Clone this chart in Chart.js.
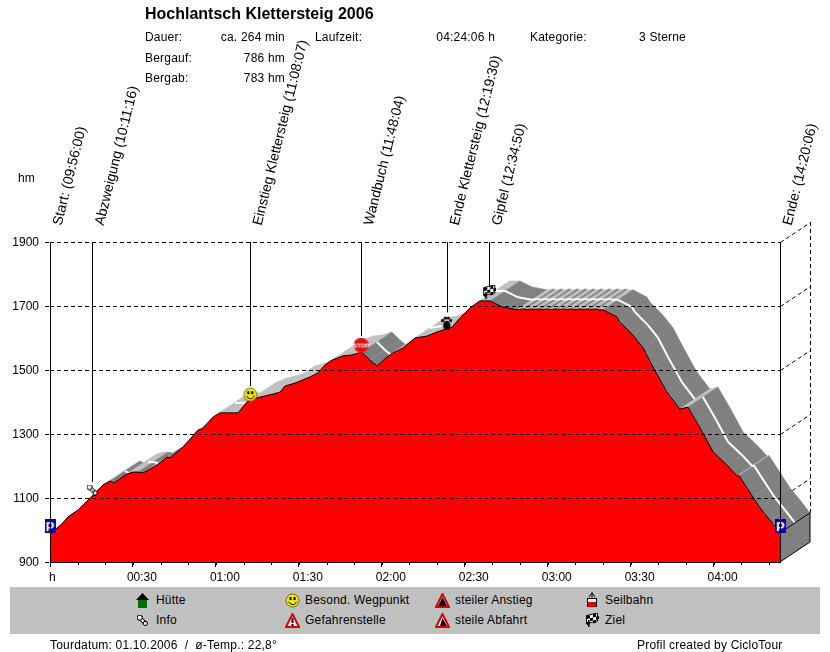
<!DOCTYPE html>
<html>
<head>
<meta charset="utf-8">
<title>Hochlantsch Klettersteig 2006</title>
<script src="https://cdn.jsdelivr.net/npm/chart.js@4"></script>
<style>
  html, body { margin: 0; padding: 0; background: #fff; }
  #page { position: relative; width: 830px; height: 652px; overflow: hidden; font: 12px "Liberation Sans", Arial, sans-serif; color: #000; }
  #chart { position: absolute; left: 0; top: 0; }
  .t { position: absolute; white-space: pre; line-height: 14px; letter-spacing: 0.2px; }
  .r { text-align: right; }
  #title { left: 145px; top: 5px; font-size: 16px; font-weight: bold; line-height: 18px; letter-spacing: 0; }
  #bar { position: absolute; left: 10px; top: 587px; width: 810px; height: 47px; background: #c0c0c0; }
  canvas.ic { position: absolute; }
</style>
</head>
<body>
<div id="page">
  <canvas id="chart" width="830" height="652"></canvas>
  <div id="bar"></div>
  <div class="t" id="title">Hochlantsch Klettersteig 2006</div>
</div>
<script>
// Profil: Minuten seit Start und Hoehe
const tourMinutes = [0, 2.5, 4.3, 6.5, 10.1, 15.6, 19.2, 21.7, 23.1, 27.8, 30, 31.8, 33.6, 38.7, 42.3, 43.4, 48.1, 53.5, 55, 59, 61.5, 65.1, 68, 71.2, 74.9, 80.7, 83.2, 85, 88.6, 94, 96.9, 99.5, 102, 106, 109.2, 112.8, 115.7, 118.3, 121.9, 124, 127.7, 132, 136.3, 140, 145.4, 148.3, 151.9, 155.5, 159.1, 163.5, 165.3, 168.9, 171.2, 171.9, 174.1, 174.8, 177, 177.7, 179.9, 180.6, 182.8, 183.5, 185.7, 186.4, 188.6, 189.3, 191.5, 192.2, 194.4, 195.1, 197.3, 198, 200, 205, 206.1, 210.8, 214.5, 218.1, 223.1, 227.8, 230.7, 235.1, 239.8, 244.8, 248.5, 249.2, 254.2, 256.8, 260.4, 264];
const tourElevation = [985, 1006, 1019, 1041, 1062, 1109, 1141, 1153, 1147, 1175, 1181, 1181, 1178, 1203, 1228, 1225, 1259, 1312, 1316, 1353, 1366, 1366, 1366, 1400, 1413, 1425, 1431, 1450, 1459, 1478, 1491, 1516, 1531, 1544, 1547, 1556, 1531, 1513, 1541, 1553, 1569, 1600, 1606, 1619, 1634, 1663, 1694, 1716, 1716, 1697, 1694, 1688, 1691, 1688, 1691, 1688, 1691, 1688, 1691, 1688, 1691, 1688, 1691, 1688, 1691, 1688, 1691, 1688, 1691, 1688, 1691, 1688, 1688, 1666, 1650, 1609, 1569, 1509, 1431, 1378, 1384, 1319, 1244, 1203, 1169, 1170, 1103, 1069, 1031, 991];

// Wegpunkte
const markerNames = ['Start: (09:56:00)', 'Abzweigung (10:11:16)', 'Einstieg Klettersteig (11:08:07)', 'Wandbuch (11:48:04)', 'Ende Klettersteig (12:19:30)', 'Gipfel (12:34:50)', 'Ende: (14:20:06)'];
const markerMinutes = [0, 15.27, 72.4, 112.5, 143.5, 158.83, 264.1];
const markerIconY = [1012, 1125, 1423, 1578, 1647, 1744, 1012];
const markerIcons = ['park', 'info', 'smile', 'stop', 'paw', 'flag', 'park'];
const markerLineEnd = [1012, 1150, 1450, 1606, 1680, 1760, 1012];

const yTicks = [900, 1100, 1300, 1500, 1700, 1900];

// Kopfzeilen und Legende
const infoLeft = ['Dauer:', 'Bergauf:', 'Bergab:'];
const infoValues = ['ca. 264 min', '786 hm', '783 hm'];
const legendNames = ['Hütte', 'Info', 'Besond. Wegpunkt', 'Gefahrenstelle', 'steiler Anstieg', 'steile Abfahrt', 'Seilbahn', 'Ziel'];
const legendIcons = ['hut', 'info', 'smile', 'danger', 'up', 'down', 'cable', 'flag'];

function mk(w, h, draw) {
  const c = document.createElement('canvas');
  c.width = w; c.height = h;
  draw(c.getContext('2d'), w, h);
  return c;
}

function triangle(g, w, h) {
  g.fillStyle = '#fff';
  g.strokeStyle = '#e00000';
  g.lineWidth = 2;
  g.beginPath();
  g.moveTo(w / 2, 1); g.lineTo(w - 1, h - 1); g.lineTo(1, h - 1); g.closePath();
  g.fill(); g.stroke();
}

// Symbole
const iconMakers = {
  park: () => mk(11, 14, (g) => {
    g.fillStyle = '#0000d0'; g.fillRect(0, 0, 11, 14);
    g.fillStyle = '#fff'; g.font = 'bold 13px "Liberation Sans"'; g.textAlign = 'center';
    g.fillText('P', 5.5, 12);
  }),
  info: () => mk(11, 11, (g) => {
    g.translate(5.5, 5.5); g.rotate(-Math.PI / 4);
    g.fillStyle = '#fff'; g.strokeStyle = '#000'; g.lineWidth = 1;
    g.beginPath(); g.rect(-1.5, -5, 3, 9); g.fill(); g.stroke();
    g.beginPath(); g.arc(0, -4, 2.5, 0, Math.PI * 2); g.fill(); g.stroke();
    g.beginPath(); g.arc(0, 4, 2, 0, Math.PI * 2); g.fill(); g.stroke();
  }),
  smile: () => mk(15, 15, (g) => {
    g.fillStyle = '#f4e800'; g.strokeStyle = '#807000'; g.lineWidth = 1;
    g.beginPath(); g.arc(7.5, 7.5, 6.5, 0, Math.PI * 2); g.fill(); g.stroke();
    g.fillStyle = '#000'; g.fillRect(4.5, 4, 2, 3); g.fillRect(8.5, 4, 2, 3);
    g.strokeStyle = '#000';
    g.beginPath(); g.arc(7.5, 7.5, 4, 0.3, Math.PI - 0.3); g.stroke();
  }),
  stop: () => mk(15, 15, (g) => {
    g.fillStyle = '#e01010';
    g.beginPath(); g.arc(7.5, 7.5, 7.5, 0, Math.PI * 2); g.fill();
    g.fillStyle = '#fff'; g.font = 'bold 6px "Liberation Sans"'; g.textAlign = 'center';
    g.fillText('STOP', 7.5, 10);
  }),
  paw: () => mk(11, 14, (g) => {
    g.fillStyle = '#000';
    g.beginPath(); g.ellipse(5.5, 9.5, 3.5, 4.5, 0, 0, Math.PI * 2); g.fill();
    [[1.5, 4.5], [4, 2], [7, 2], [9.5, 4.5]].forEach(([x, y]) => {
      g.beginPath(); g.arc(x, y, 1.6, 0, Math.PI * 2); g.fill();
    });
  }),
  flag: () => mk(14, 14, (g) => {
    g.transform(1, -0.25, 0, 1, 0, 2.5);
    g.fillStyle = '#fff'; g.fillRect(2, 1, 11, 8);
    g.fillStyle = '#000';
    for (let i = 0; i < 4; i++) for (let j = 0; j < 3; j++) if ((i + j) % 2 === 0) g.fillRect(2 + i * 3, 1 + j * 3, 3, 3);
    g.strokeRect(1.5, 0.5, 11, 8);
    g.setTransform(1, 0, 0, 1, 0, 0);
    g.fillRect(3, 7, 1.5, 7);
  }),
  hut: () => mk(13, 15, (g) => {
    g.fillStyle = '#007000'; g.fillRect(2, 7, 9, 8);
    g.fillStyle = '#000';
    g.beginPath(); g.moveTo(6.5, 0); g.lineTo(13, 7); g.lineTo(0, 7); g.closePath(); g.fill();
  }),
  danger: () => mk(15, 15, (g, w, h) => {
    triangle(g, w, h);
    g.fillStyle = '#000'; g.fillRect(6.5, 5, 2, 5); g.fillRect(6.5, 11, 2, 2);
  }),
  up: () => mk(15, 15, (g, w, h) => {
    triangle(g, w, h);
    g.fillStyle = '#000';
    g.beginPath(); g.moveTo(7.5, 4); g.lineTo(12, 13); g.lineTo(3, 13); g.closePath(); g.fill();
  }),
  down: () => mk(15, 15, (g, w, h) => {
    triangle(g, w, h);
    g.fillStyle = '#000';
    g.beginPath(); g.moveTo(7.5, 5); g.lineTo(12, 13); g.lineTo(5, 13); g.closePath(); g.fill();
  }),
  cable: () => mk(14, 16, (g) => {
    g.strokeStyle = '#000'; g.lineWidth = 1;
    g.beginPath(); g.moveTo(4, 5); g.lineTo(7, 1); g.lineTo(10, 5); g.moveTo(7, 0); g.lineTo(7, 6); g.stroke();
    g.fillStyle = '#fff'; g.fillRect(2.5, 6.5, 9, 8);
    g.strokeRect(2.5, 6.5, 9, 8);
    g.fillStyle = '#e00000'; g.fillRect(3, 10, 8, 5);
  })
};

// Kopfzeilen aufbauen
const page = document.getElementById('page');
function addText(text, left, top, right) {
  const d = document.createElement('div');
  d.className = 't';
  d.textContent = text;
  d.style.top = top + 'px';
  if (right !== undefined) { d.className = 't r'; d.style.right = (830 - right) + 'px'; }
  else d.style.left = left + 'px';
  page.appendChild(d);
}
const rowTops = [30, 51, 71];
infoLeft.forEach((txt, i) => {
  addText(txt, 145, rowTops[i]);
  addText(infoValues[i], 0, rowTops[i], 285);
});
addText('Laufzeit:', 315, 30);
addText('04:24:06 h', 0, 30, 495);
addText('Kategorie:', 530, 30);
addText('3 Sterne', 639, 30);
addText('hm', 18, 171);
addText('Tourdatum: 01.10.2006  /  ø-Temp.: 22,8°', 50, 638);
addText('Profil created by CicloTour', 637, 638);

// Legende
legendNames.forEach((name, i) => {
  const col = Math.floor(i / 2), row = i % 2;
  const x = 142 + col * 150, y = 600 + row * 20;
  const c = iconMakers[legendIcons[i]]();
  c.className = 'ic';
  c.style.left = (x - c.width / 2) + 'px';
  c.style.top = (y - c.height / 2) + 'px';
  page.appendChild(c);
  addText(name, x + (col > 0 ? 13 : 14), y - 7);
});

const depthX = 30, depthY = -20;

// Hintergrund: Fahrbahn-Band und rechte Wand
const ribbonPlugin = {
  id: 'ribbon',
  beforeDatasetsDraw(chart) {
    const g = chart.ctx, sx = chart.scales.x, sy = chart.scales.y;
    const pts = tourMinutes.map((m, i) => ({ x: sx.getPixelForValue(m), y: sy.getPixelForValue(tourElevation[i]) }));
    g.save();
    // Rechte Seite: Linien nach hinten
    g.strokeStyle = '#000';
    g.lineWidth = 1;
    g.setLineDash([4, 3]);
    yTicks.slice(1).forEach((v) => {
      const y = sy.getPixelForValue(v);
      g.beginPath(); g.moveTo(780.5, y + 0.5); g.lineTo(780.5 + depthX, y + 0.5 + depthY); g.stroke();
    });
    g.beginPath();
    g.moveTo(810.5, sy.top + depthY);
    g.lineTo(810.5, pts[pts.length - 1].y + depthY);
    g.stroke();
    g.setLineDash([]);

    // Band Segment fuer Segment
    for (let i = 0; i < pts.length - 1; i++) {
      const a = pts[i], b = pts[i + 1];
      const col = b.y <= a.y ? '#c0c0c0' : '#808080';
      g.fillStyle = col;
      g.strokeStyle = col;
      g.lineWidth = 0.5;
      g.beginPath();
      g.moveTo(a.x, a.y);
      g.lineTo(b.x, b.y);
      g.lineTo(b.x + depthX, b.y + depthY);
      g.lineTo(a.x + depthX, a.y + depthY);
      g.closePath();
      g.fill();
      g.stroke();
    }
    // Weisse Mittellinie nur wo es nicht steil bergauf geht
    g.strokeStyle = '#fff';
    g.lineWidth = 2;
    for (let i = 0; i < pts.length - 1; i++) {
      const a = pts[i], b = pts[i + 1];
      if ((a.y - b.y) / (b.x - a.x) < 0.2) {
        g.beginPath();
        g.moveTo(a.x + depthX / 2, a.y + depthY / 2);
        g.lineTo(b.x + depthX / 2, b.y + depthY / 2);
        g.stroke();
      }
    }

    // Endflaeche
    const last = pts[pts.length - 1], bottom = sy.bottom;
    g.fillStyle = '#808080';
    g.strokeStyle = '#000';
    g.lineWidth = 1;
    g.beginPath();
    g.moveTo(last.x, last.y);
    g.lineTo(last.x + depthX, last.y + depthY);
    g.lineTo(last.x + depthX, bottom + depthY);
    g.lineTo(last.x, bottom);
    g.closePath();
    g.fill();
    g.stroke();
    g.restore();
  },
  afterDatasetsDraw(chart) {
    const g = chart.ctx, sx = chart.scales.x, sy = chart.scales.y;
    g.save();
    // Senkrechte Linien und Beschriftung
    g.strokeStyle = '#000';
    g.fillStyle = '#000';
    g.lineWidth = 1;
    markerMinutes.forEach((m, i) => {
      const x = Math.round(sx.getPixelForValue(m)) + 0.5;
      const end = (i === 0 || i === 6) ? sy.bottom : sy.getPixelForValue(markerLineEnd[i]);
      g.beginPath(); g.moveTo(x, sy.top); g.lineTo(x, end); g.stroke();
      g.save();
      g.translate(x + 11, sy.top - 16);
      g.rotate(-76 * Math.PI / 180);
      g.font = '14px "Liberation Sans"';
      g.textAlign = 'left';
      g.fillText(markerNames[i], 0, 0);
      g.restore();
    });
    // Kleine Striche alle 10 Minuten
    for (let m = 10; m <= 260; m += 10) {
      const x = Math.round(sx.getPixelForValue(m)) + 0.5;
      g.beginPath(); g.moveTo(x, sy.bottom); g.lineTo(x, sy.bottom + 3); g.stroke();
    }
    g.font = '12px "Liberation Sans"';
    g.fillText('h', 49, sy.bottom + 19);
    g.restore();
  }
};

new Chart(document.getElementById('chart'), {
  type: 'line',
  plugins: [ribbonPlugin],
  data: {
    datasets: [
      {
        label: 'Wegpunkte',
        data: markerMinutes.map((m, i) => ({ x: m, y: markerIconY[i] })),
        showLine: false,
        pointStyle: markerIcons.map((n) => iconMakers[n]()),
        order: 0
      },
      {
        label: 'Profil',
        data: tourMinutes.map((m, i) => ({ x: m, y: tourElevation[i] })),
        borderColor: '#000',
        borderWidth: 1,
        backgroundColor: '#ff0000',
        fill: 'origin',
        pointRadius: 0,
        tension: 0,
        order: 1
      }
    ]
  },
  options: {
    responsive: false,
    animation: false,
    layout: { padding: { top: 242, right: 50, left: 0, bottom: 0 } },
    plugins: { legend: { display: false }, tooltip: { enabled: false } },
    clip: false,
    scales: {
      x: {
        type: 'linear',
        min: 0,
        max: 264,
        afterFit(s) { s.height = 90; },
        afterBuildTicks(s) { s.ticks = s.ticks.filter((t) => t.value % 30 === 0); },
        grid: { drawOnChartArea: false, drawTicks: true, tickLength: 5, color: '#000' },
        border: { color: '#000' },
        ticks: {
          stepSize: 30,
          autoSkip: false,
          maxRotation: 0,
          labelOffset: 9,
          padding: 3,
          color: '#000',
          font: { family: '"Liberation Sans"', size: 12 },
          callback(v) {
            if (v === 0) return '';
            const h = Math.floor(v / 60), m = v % 60;
            return String(h).padStart(2, '0') + ':' + String(m).padStart(2, '0');
          }
        }
      },
      y: {
        min: 900,
        max: 1900,
        afterFit(s) { s.width = 50; },
        grid: { z: 1, color: '#000', tickLength: 5, borderDash: [4, 3], tickBorderDash: [4, 3] },
        border: { color: '#000', dash: [4, 3], display: false },
        ticks: {
          stepSize: 200,
          padding: 6,
          labelOffset: 1,
          color: '#000',
          font: { family: '"Liberation Sans"', size: 12 },
          callback(v) { return String(v); }
        }
      }
    }
  }
});
</script>
</body>
</html>
